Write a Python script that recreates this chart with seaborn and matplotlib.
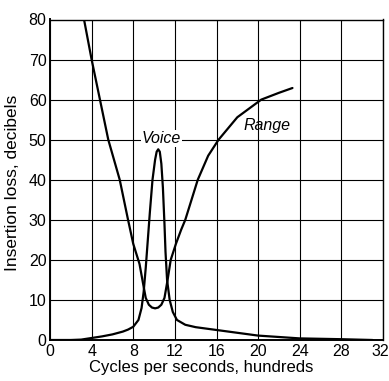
import matplotlib
matplotlib.use("Agg")
import matplotlib.pyplot as plt
import matplotlib.transforms as mtransforms
import seaborn as sns
import pandas as pd

# Insertion loss (dB) vs frequency (hundreds of cycles per second)
range_freq = [3.27, 4.0, 4.8, 5.6, 6.15, 6.7, 7.1, 7.5, 8.0, 8.6, 8.95, 9.2, 9.5, 9.8,
              10.1, 10.4, 10.7, 11.0, 11.3, 11.6, 12.1, 12.6, 13.0, 13.6, 14.2,
              15.2, 16.2, 18.0, 20.3, 22.0, 23.3]
range_loss = [80, 70, 60, 50, 45, 40, 35, 30, 24, 19, 14, 10.5, 8.8, 8.1,
              7.9, 8.1, 8.8, 10.5, 15, 20, 24, 27.5, 30, 35, 40,
              46, 50, 55.6, 60, 61.7, 62.9]

voice_freq = [0, 2, 3, 4, 5, 6, 7, 7.5, 8.0, 8.5, 8.8, 9.0, 9.2, 9.4, 9.6, 9.85,
              10.1, 10.25, 10.4, 10.55, 10.7, 10.85, 11.0, 11.1, 11.25, 11.5,
              11.8, 12.2, 13.0, 14.0, 16.0, 18.0, 20.0, 24.0, 28.0, 31.0]
voice_loss = [0, 0, 0.1, 0.5, 0.9, 1.4, 2.1, 2.6, 3.3, 5, 8, 12, 18, 25, 32, 40,
              45, 47, 47.6, 47, 44, 38, 29, 22, 15, 10,
              7, 5, 3.8, 3.2, 2.5, 1.8, 1.1, 0.4, 0.2, 0]

x_ticks = [0, 4, 8, 12, 16, 20, 24, 28, 32]
y_ticks = [0, 10, 20, 30, 40, 50, 60, 70, 80]

sns.set_style("white")
plt.rcParams["font.family"] = ["Liberation Sans", "DejaVu Sans"]
plt.rcParams["text.color"] = "black"
plt.rcParams["axes.labelcolor"] = "black"

fig = plt.figure(figsize=(3.89, 3.81), dpi=100)
ax = fig.add_axes([50 / 389, 41 / 381, 333 / 389, 320.5 / 381])

range_df = pd.DataFrame({"freq": range_freq, "loss": range_loss})
voice_df = pd.DataFrame({"freq": voice_freq, "loss": voice_loss})

sns.lineplot(data=range_df, x="freq", y="loss", ax=ax, color="black",
             linewidth=1.6, sort=False, estimator=None, zorder=3)
sns.lineplot(data=voice_df, x="freq", y="loss", ax=ax, color="black",
             linewidth=1.6, sort=False, estimator=None, zorder=3)

ax.set_xlim(0, 32)
ax.set_ylim(0, 80)
ax.set_xticks(x_ticks)
ax.set_yticks(y_ticks)
ax.set_xticklabels([str(t) for t in x_ticks], fontsize=11.5)
ax.set_yticklabels([str(t) for t in y_ticks], fontsize=11.5)
ax.tick_params(axis="x", length=0, pad=3, colors="black")
ax.tick_params(axis="y", length=0, pad=2.5, colors="black")

# keep the rightmost frequency label inside the canvas
last = ax.get_xticklabels()[-1]
last.set_transform(last.get_transform() +
                   mtransforms.ScaledTranslation(-3 / 100, 0, fig.dpi_scale_trans))

ax.grid(True, color="black", linewidth=0.8, zorder=1)
ax.set_axisbelow(True)
for s in ax.spines.values():
    s.set_color("black")
    s.set_linewidth(1.0)
ax.spines["left"].set_linewidth(1.4)
ax.spines["bottom"].set_linewidth(1.4)

ax.set_xlabel("Cycles per seconds, hundreds", fontsize=12)
ax.set_ylabel("Insertion loss, decibels", fontsize=12.5)
ax.xaxis.set_label_coords(0.455, -0.062)
ax.yaxis.set_label_coords(-0.09, 0.49)

ax.text(10.7, 50.3, "Voice", fontsize=11.5, style="italic", ha="center", va="center",
        bbox=dict(facecolor="white", edgecolor="none", pad=0.5), zorder=4)
ax.text(18.6, 53.6, "Range", fontsize=11.5, style="italic", ha="left", va="center",
        zorder=4)

fig.savefig("out.png", dpi=100, facecolor="white")
